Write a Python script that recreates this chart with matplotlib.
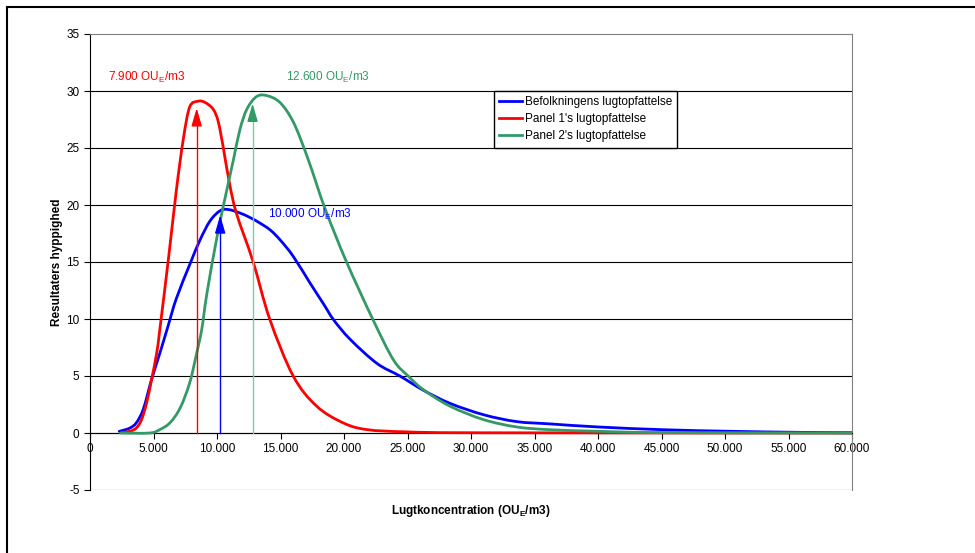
import matplotlib
matplotlib.use("Agg")
import matplotlib.pyplot as plt
from matplotlib.patches import Rectangle, PathPatch
from matplotlib.path import Path
from matplotlib.lines import Line2D
from matplotlib.ticker import FuncFormatter

plt.rcParams['font.family'] = ['Liberation Sans', 'DejaVu Sans']
plt.rcParams['axes.unicode_minus'] = False

# values (x in OU_E/m3, y = frequency)
x_blue = [2300, 2500, 3150, 3650, 4200, 4850, 5500, 6150, 6800, 7900, 8650, 9450, 10250,
          10900, 11800, 12600, 13400, 14200, 15000, 16000, 17300, 18400, 19200, 20500,
          22600, 24400, 26250, 28350, 31000, 33600, 36200, 40000, 45100, 50400, 55700,
          60000]
y_blue = [0.15, 0.2, 0.44, 0.9, 2.1, 4.7, 7.0, 9.4, 11.8, 14.9, 16.9, 18.6, 19.5,
          19.6, 19.3, 18.9, 18.4, 17.8, 16.9, 15.5, 13.2, 11.3, 9.9, 8.2,
          6.1, 5.0, 3.75, 2.6, 1.6, 1.0, 0.8, 0.53, 0.29, 0.15, 0.06,
          0.02]

x_red = [2500, 3150, 3650, 4050, 4450, 4850, 5250, 5500, 6200, 6800, 7350, 7850, 8500,
         9050, 9700, 10100, 10500, 11000, 11550, 12850, 14150, 16000, 17850, 19950,
         21800, 24900, 31000, 60000]
y_red = [0.05, 0.15, 0.44, 1.15, 2.6, 4.7, 7.0, 9.1, 15.5, 21.3, 25.8, 28.6, 29.1,
         29.0, 28.4, 27.3, 25.0, 21.8, 19.2, 15.0, 10.0, 5.0, 2.35, 0.88,
         0.3, 0.1, 0.02, 0.0]

x_green = [2400, 4700, 5500, 6300, 7100, 7850, 8400, 8800, 9200, 10000, 10750, 11300,
           11800, 12350, 13100, 13900, 14950, 16000, 17050, 17850, 18600, 20200, 22300,
           23900, 25050, 26250, 28350, 31000, 33600, 36200, 40000, 45100, 60000]
y_green = [0.0, 0.0, 0.3, 0.9, 2.2, 4.4, 7.0, 9.1, 12.2, 17.2, 21.2, 24.0,
           26.6, 28.4, 29.5, 29.6, 29.0, 27.3, 24.4, 21.8, 19.4, 15.0, 9.9,
           6.4, 5.0, 3.8, 2.35, 1.17, 0.53, 0.29, 0.15, 0.03, 0.0]

series_labels = ["Befolkningens lugtopfattelse", "Panel 1's lugtopfattelse",
                 "Panel 2's lugtopfattelse"]
series_colors = ['#0000ff', '#ff0000', '#339966']

# median arrows: x position, tip height, label text
arrow_x = [10250, 8400, 12800]
arrow_tip = [19.1, 28.5, 28.9]
arrow_text = ["10.000 OU$_\\mathregular{E}$/m3", "7.900 OU$_\\mathregular{E}$/m3",
              "12.600 OU$_\\mathregular{E}$/m3"]
text_pos = [(14000, 19.2), (1400, 31.2), (15400, 31.2)]
arrow_line_colors = ['#0000ff', '#ff0000', '#7fcc9f']


def smooth_path(xv, yv):
    # Excel-style smoothed line: cubic bezier segments through the points
    verts = [(xv[0], yv[0])]
    codes = [Path.MOVETO]
    n = len(xv)
    for i in range(n - 1):
        x0, y0 = (xv[i - 1], yv[i - 1]) if i > 0 else (xv[i], yv[i])
        x1, y1 = xv[i], yv[i]
        x2, y2 = xv[i + 1], yv[i + 1]
        x3, y3 = (xv[i + 2], yv[i + 2]) if i + 2 < n else (x2, y2)
        c1 = (x1 + (x2 - x0) / 6, y1 + (y2 - y0) / 6)
        c2 = (x2 - (x3 - x1) / 6, y2 - (y3 - y1) / 6)
        verts += [c1, c2, (x2, y2)]
        codes += [Path.CURVE4] * 3
    return Path(verts, codes)


fig = plt.figure(figsize=(9.75, 5.53), dpi=100)
ax = fig.add_axes([90 / 975, 1 - 490 / 553, 762 / 975, 456 / 553])

ax.set_xlim(0, 60000)
ax.set_ylim(-5, 35)
ax.set_xticks(range(0, 60001, 5000))
ax.set_yticks(range(-5, 36, 5))
ax.xaxis.set_major_formatter(FuncFormatter(lambda v, p: f"{int(v):,}".replace(",", ".")))

# horizontal gridlines (black), top border stays grey
for yv in range(-5, 35, 5):
    ax.axhline(yv, color='black', lw=0.8, zorder=1)

for sp in ['top', 'right']:
    ax.spines[sp].set_color('#808080')
ax.spines['left'].set_color('black')
ax.spines['bottom'].set_position(('data', 0))
ax.spines['bottom'].set_color('black')

ax.tick_params(axis='both', labelsize=8.5, colors='black', length=4, width=0.8)
ax.tick_params(axis='x', direction='out', pad=3)

xs = [x_blue, x_red, x_green]
ys = [y_blue, y_red, y_green]
handles = []
for xv, yv, c, lab in zip(xs, ys, series_colors, series_labels):
    ax.add_patch(PathPatch(smooth_path(xv, yv), fill=False, ec=c, lw=2,
                           zorder=3, capstyle='round', joinstyle='round'))
    handles.append(Line2D([], [], color=c, lw=2, label=lab))

for xa, tip, lc, hc in zip(arrow_x, arrow_tip, arrow_line_colors, series_colors):
    ax.plot([xa, xa], [0, tip - 0.5], color=lc, lw=1, zorder=4)
    ax.annotate('', xy=(xa, tip), xytext=(xa, tip - 1.3),
                arrowprops=dict(arrowstyle='-|>,head_length=0.55,head_width=0.16',
                                color=hc, lw=1, mutation_scale=20,
                                shrinkA=0, shrinkB=0), zorder=5)

for txt, (tx, ty), c in zip(arrow_text, text_pos, series_colors):
    ax.text(tx, ty, txt, color=c, fontsize=8.5, va='center', ha='left')

leg = ax.legend(handles=handles, loc='upper left', bbox_to_anchor=(0.530, 0.875),
                fontsize=8.5, frameon=True, fancybox=False, edgecolor='black',
                framealpha=1, borderpad=0.45, handlelength=1.9, handletextpad=0.25,
                labelspacing=0.42, borderaxespad=0)
leg.get_frame().set_linewidth(1)

fig.text(57 / 975, 1 - 262 / 553, "Resultaters hyppighed", rotation=90,
         fontsize=8.5, fontweight='bold', ha='center', va='center')
fig.text(471 / 975, 1 - 511 / 553, "Lugtkoncentration (OU$_\\mathregular{E}$/m3)",
         fontsize=8.5, fontweight='bold', ha='center', va='center')

fig.add_artist(Rectangle((7 / 975, -0.1), 1.2, 1.1 - 7 / 553, transform=fig.transFigure,
                         fill=False, ec='black', lw=1.5))

fig.savefig("out.png", dpi=100)
